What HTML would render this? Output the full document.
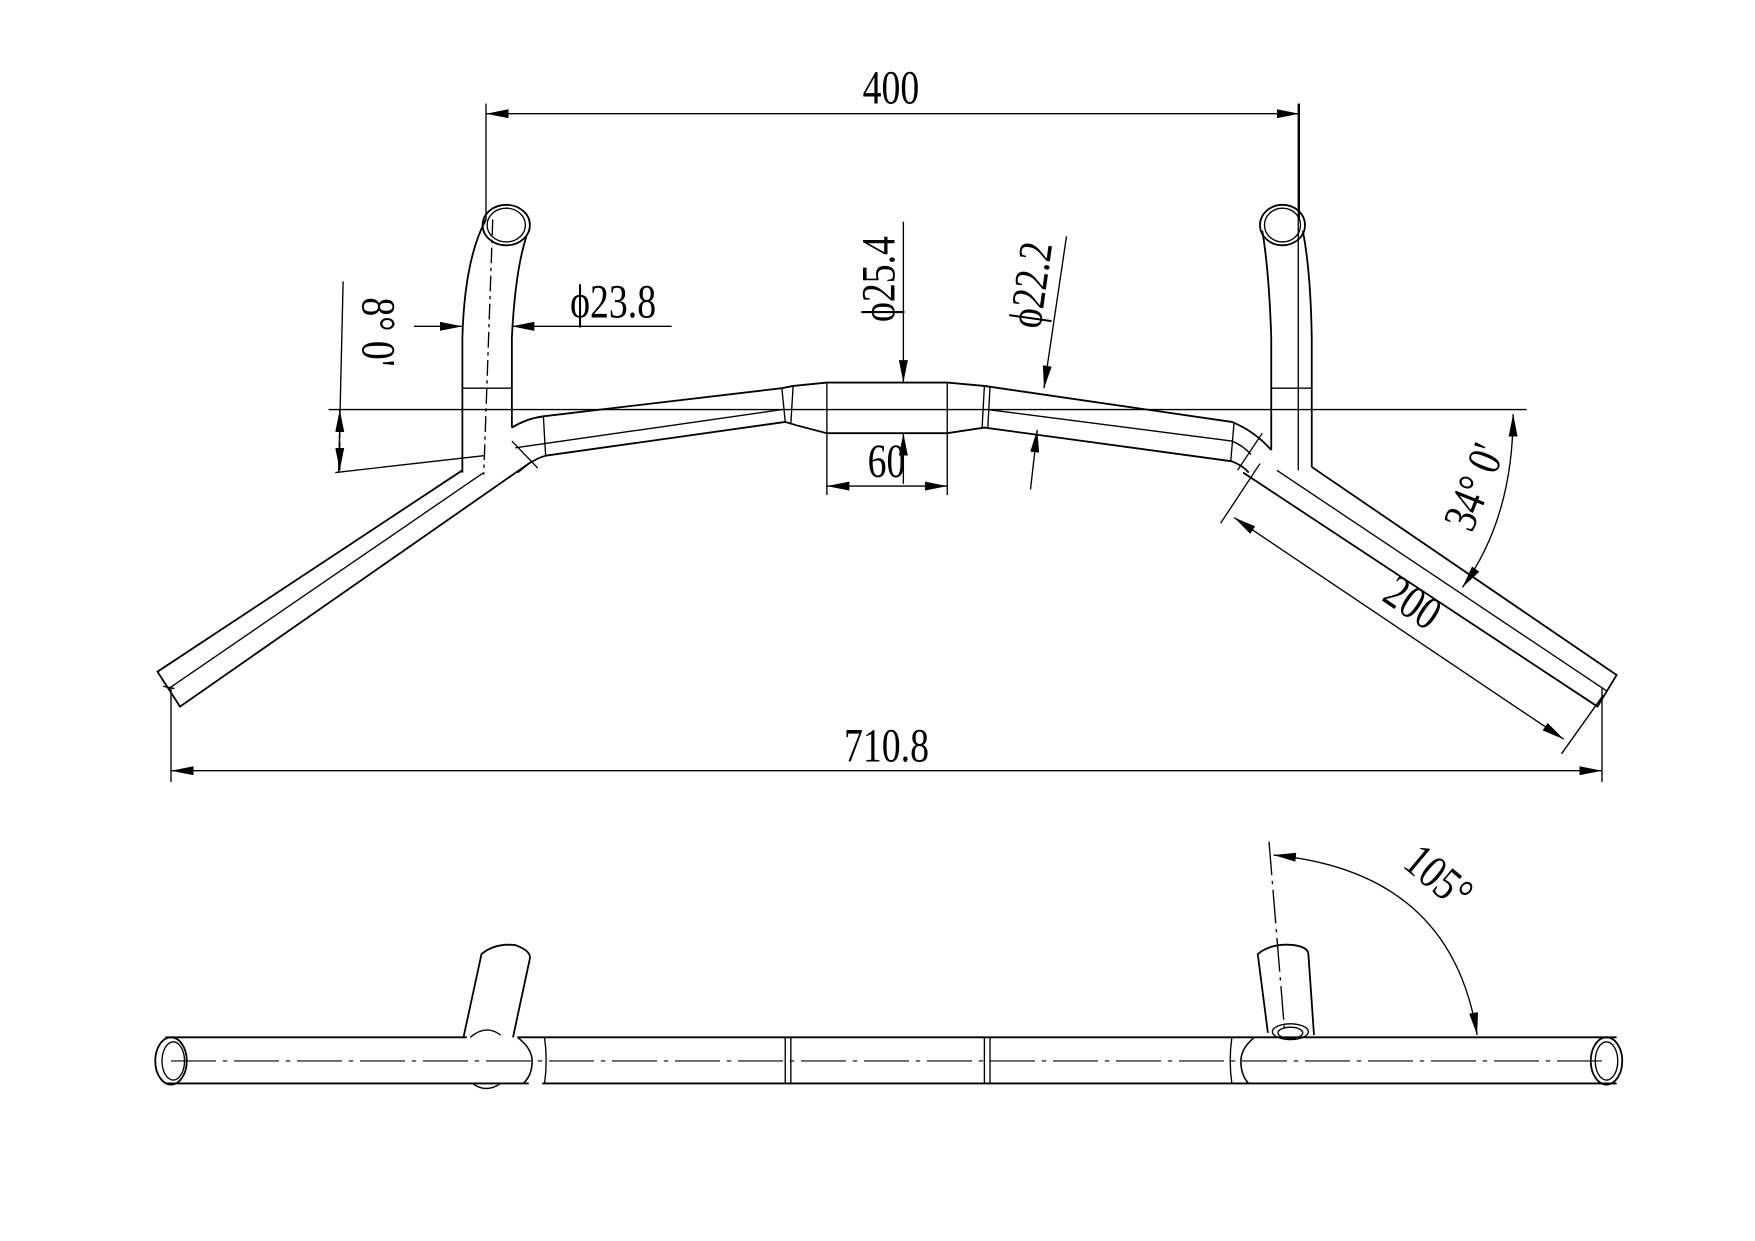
<!DOCTYPE html>
<html><head><style>html,body{margin:0;padding:0;background:#fff;}svg{display:block}
text{font-family:"Liberation Serif",serif;fill:#000;}</style></head><body>
<svg width="1755" height="1241" viewBox="0 0 1560 1103" xmlns="http://www.w3.org/2000/svg">
<defs>
<marker id="a" viewBox="0 0 20 8" refX="20" refY="4" markerWidth="20" markerHeight="8" markerUnits="userSpaceOnUse" orient="auto-start-reverse"><path d="M0,0L20,4L0,8z" fill="#000"/></marker>
</defs>
<g fill="none" stroke="#000" stroke-width="1.2">
<line x1="432" y1="92" x2="432" y2="195"/><line x1="1155" y1="92" x2="1155" y2="195"/>
<line x1="432" y1="101" x2="1155" y2="101" marker-start="url(#a)" marker-end="url(#a)"/>
<line x1="292" y1="364" x2="1357" y2="364"/>
<path d="M411,420 L411,300 Q413,230 432,195" stroke-width="1.6"/>
<path d="M455,380 L455,300 Q458,240 468,210" stroke-width="1.6"/>
<ellipse cx="450" cy="200" rx="21" ry="18" stroke-width="1.6"/>
<ellipse cx="450" cy="200" rx="17" ry="15"/>
<line x1="411" y1="345" x2="455" y2="345"/>
<line x1="438" y1="195" x2="430" y2="422" stroke-dasharray="14,4,3,4"/>
<path d="M1130,400 L1130,300 Q1128,240 1122,205" stroke-width="1.6"/>
<path d="M1166,415 L1166,300 Q1165,240 1158,205" stroke-width="1.6"/>
<ellipse cx="1140" cy="200" rx="20" ry="18" stroke-width="1.6"/>
<ellipse cx="1140" cy="200" rx="16" ry="15"/>
<line x1="1130" y1="345" x2="1166" y2="345"/>
<line x1="1154" y1="92" x2="1154" y2="418"/>
<path d="M455,380 Q468,372 483,370 L695,345 L705,343 L735,340 L842,340 L875,343 L1095,375 Q1115,383 1130,400" stroke-width="1.6"/>
<path d="M460,420 L470,412 Q478,407 485,405 L698,375 L708,378 L735,385 L842,385 L875,380 L1095,410 Q1105,414 1110,420" stroke-width="1.6"/>
<path d="M458,398 L695,364 M878,364 L1095,392 Q1105,396 1112,404"/>
<line x1="483" y1="370" x2="485" y2="405"/><line x1="695" y1="345" x2="698" y2="375"/><line x1="705" y1="343" x2="703" y2="376"/>
<line x1="735" y1="340" x2="735" y2="385"/><line x1="842" y1="340" x2="842" y2="385"/>
<line x1="875" y1="343" x2="873" y2="380"/><line x1="880" y1="344" x2="878" y2="381"/>
<line x1="1097" y1="375" x2="1094" y2="410"/>
<line x1="455" y1="392" x2="478" y2="416"/>
<line x1="1122" y1="385" x2="1100" y2="418"/>
<path d="M411,418 L140,597 L160,628 L470,412" stroke-width="1.6"/>
<line x1="430" y1="420" x2="150" y2="612"/>
<line x1="145" y1="610" x2="155" y2="612"/>
<line x1="298" y1="420" x2="430" y2="405"/>
<path d="M1166,415 L1437,600 L1420,628 L1105,420" stroke-width="1.6"/>
<line x1="1135" y1="418" x2="1428" y2="614"/>
<line x1="368" y1="290" x2="411" y2="290" marker-end="url(#a)"/>
<line x1="597" y1="290" x2="455" y2="290" marker-end="url(#a)"/>
<line x1="803" y1="197" x2="803" y2="340" marker-end="url(#a)"/>
<line x1="803" y1="430" x2="803" y2="385" marker-end="url(#a)"/>
<line x1="735" y1="385" x2="735" y2="440"/><line x1="842" y1="385" x2="842" y2="440"/>
<line x1="788" y1="432" x2="735" y2="432" marker-end="url(#a)"/>
<line x1="788" y1="432" x2="842" y2="432" marker-end="url(#a)"/>
<line x1="948" y1="210" x2="928" y2="345" marker-end="url(#a)"/>
<line x1="916" y1="435" x2="922" y2="382" marker-end="url(#a)"/>
<line x1="305" y1="250" x2="301" y2="420"/>
<line x1="302" y1="390" x2="302" y2="364" marker-end="url(#a)"/>
<line x1="302" y1="392" x2="302" y2="418" marker-end="url(#a)"/>
<path d="M1345,368 Q1345,460 1300,522" marker-start="url(#a)" marker-end="url(#a)"/>
<line x1="1120" y1="412" x2="1085" y2="465"/><line x1="1425" y1="618" x2="1388" y2="670"/>
<line x1="1097" y1="460" x2="1390" y2="657" marker-start="url(#a)" marker-end="url(#a)"/>
<line x1="152" y1="610" x2="152" y2="695"/><line x1="1424" y1="612" x2="1424" y2="695"/>
<line x1="152" y1="685" x2="1424" y2="685" marker-start="url(#a)" marker-end="url(#a)"/>
<path d="M147,922 L415,922 M147,963 L470,963 M460,922 L1437,922 M482,963 L1437,963" stroke-width="1.6"/>
<ellipse cx="152" cy="943" rx="14" ry="21" stroke-width="1.6"/>
<ellipse cx="154" cy="943" rx="10" ry="17"/>
<ellipse cx="1428" cy="943" rx="14" ry="21" stroke-width="1.6"/>
<ellipse cx="1428" cy="943" rx="10" ry="17"/>
<line x1="152" y1="943" x2="1428" y2="943" stroke-dasharray="40,6,4,6" stroke-width="1"/>
<path d="M460,922 Q473,932 473,943 Q473,956 465,963" stroke-width="1.4"/>
<path d="M484,922 Q487,943 484,963"/>
<line x1="698" y1="922" x2="698" y2="963"/><line x1="703" y1="922" x2="703" y2="963"/>
<line x1="875" y1="922" x2="875" y2="963"/><line x1="880" y1="922" x2="880" y2="963"/>
<path d="M1095,922 Q1092,943 1095,963"/>
<path d="M1115,922 Q1103,932 1103,943 Q1103,956 1110,963" stroke-width="1.4"/>
<path d="M412,922 L428,848 Q440,838 458,840 Q472,845 471,852 L456,922" stroke-width="1.6"/>
<path d="M418,922 Q432,910 445,920" /><path d="M420,963 Q432,972 445,963"/>
<path d="M1127,918 L1118,848 Q1130,838 1150,840 Q1163,842 1163,848 L1168,920" stroke-width="1.6"/>
<ellipse cx="1147" cy="917" rx="16" ry="7"/><ellipse cx="1147" cy="918" rx="11" ry="5"/>
<line x1="1128" y1="748" x2="1142" y2="918" stroke-dasharray="30,5,3,5"/>
<path d="M1132,760 Q1290,775 1313,920" marker-start="url(#a)" marker-end="url(#a)"/>
</g>
<g font-size="42">
<text x="792" y="92" text-anchor="middle" transform="translate(792,0) scale(0.8,1) translate(-792,0)">400</text>
<text x="788" y="677" text-anchor="middle" transform="translate(788,0) scale(0.8,1) translate(-788,0)">710.8</text>
<text x="788" y="424" text-anchor="middle" transform="translate(788,0) scale(0.8,1) translate(-788,0)">60</text>
<text x="545" y="282" text-anchor="middle" transform="translate(545,0) scale(0.8,1) translate(-545,0)">ϕ23.8</text>
<text transform="translate(795,248) rotate(-90) scale(0.8,1)" text-anchor="middle">ϕ25.4</text>
<text transform="translate(930,255) rotate(-82) scale(0.8,1)" text-anchor="middle">ϕ22.2</text>
<text transform="translate(322,295) rotate(90) scale(0.8,1)" text-anchor="middle">8°  0'</text>
<text transform="translate(1323,438) rotate(-68) scale(0.8,1)" text-anchor="middle">34°  0'</text>
<text transform="translate(1248,547) rotate(34) scale(0.8,1)" text-anchor="middle">200</text>
<text transform="translate(1270,790) rotate(40) scale(0.8,1)" text-anchor="middle">105°</text>
</g>
</svg>
</body></html>
